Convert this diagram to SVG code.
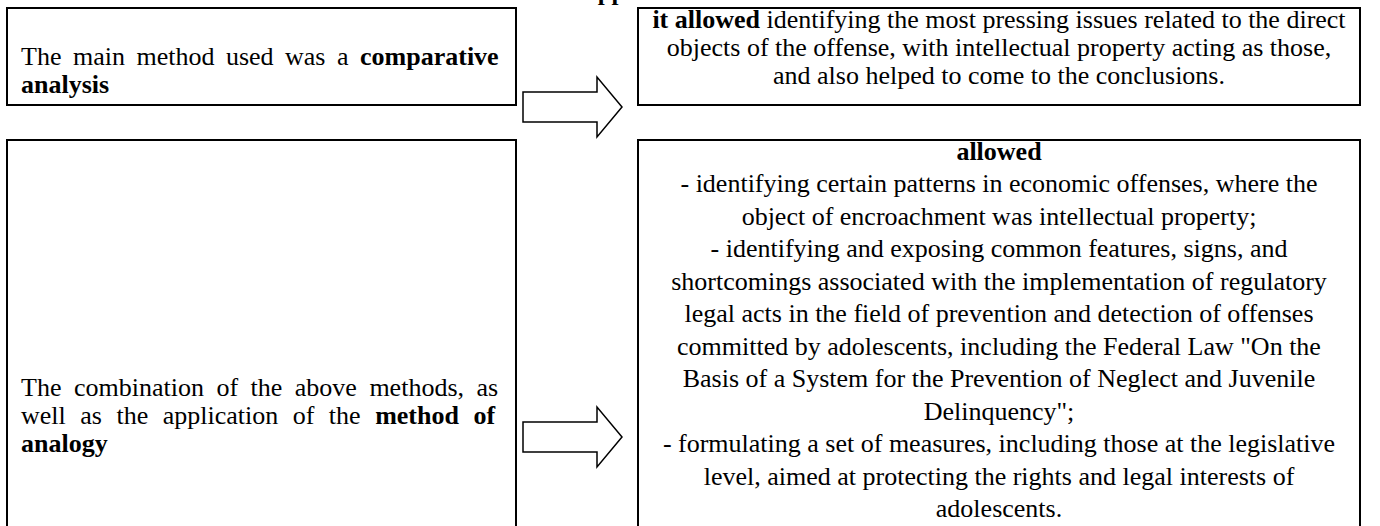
<svg xmlns="http://www.w3.org/2000/svg" width="1380" height="526" viewBox="0 0 1380 526">
<style>
.box{fill:#fff;stroke:#000;stroke-width:2}
.arr{fill:#fff;stroke:#000;stroke-width:1.5;stroke-linejoin:miter}
text{font-family:"Liberation Serif","Times New Roman",serif;font-size:26px;fill:#000}
.c{text-anchor:middle}
.b{font-weight:bold}
</style>
<rect width="1380" height="526" fill="#fff"/>
<text class="b" x="431" y="0" style="font-size:25px">Illustration of applied research methods</text>
<g id="nodeA">
<rect class="box" x="7" y="8" width="509" height="97"/>
<text x="21" y="65" word-spacing="5">The main method used was a <tspan class="b">comparative</tspan></text>
<text x="21" y="93" class="b">analysis</text>
</g>
<g id="nodeB">
<rect class="box" x="638" y="8" width="722" height="97"/>
<text class="c" x="999" y="28"><tspan class="b">it allowed</tspan> identifying the most pressing issues related to the direct</text>
<text class="c" x="999" y="56">objects of the offense, with intellectual property acting as those,</text>
<text class="c" x="999" y="84">and also helped to come to the conclusions.</text>
</g>
<g id="nodeC">
<rect class="box" x="7" y="140" width="509" height="400"/>
<text x="21" y="396" word-spacing="6">The combination of the above methods, as</text>
<text x="21" y="424" word-spacing="8">well as the application of the <tspan class="b">method of</tspan></text>
<text x="21" y="452" class="b">analogy</text>
</g>
<g id="nodeD">
<rect class="box" x="638" y="140" width="722" height="400"/>
<text class="c b" x="999" y="160">allowed</text>
<text class="c" x="999" y="192.4">- identifying certain patterns in economic offenses, where the</text>
<text class="c" x="999" y="224.9">object of encroachment was intellectual property;</text>
<text class="c" x="999" y="257.3">- identifying and exposing common features, signs, and</text>
<text class="c" x="999" y="289.8">shortcomings associated with the implementation of regulatory</text>
<text class="c" x="999" y="322.2">legal acts in the field of prevention and detection of offenses</text>
<text class="c" x="999" y="354.7">committed by adolescents, including the Federal Law "On the</text>
<text class="c" x="999" y="387.1">Basis of a System for the Prevention of Neglect and Juvenile</text>
<text class="c" x="999" y="419.6">Delinquency";</text>
<text class="c" x="999" y="452">- formulating a set of measures, including those at the legislative</text>
<text class="c" x="999" y="484.5">level, aimed at protecting the rights and legal interests of</text>
<text class="c" x="999" y="516.9">adolescents.</text>
</g>
<g id="connectors">
<path class="arr" d="M523,92 H597 V77 L622,107 L597,137 V122 H523 Z"/>
<path class="arr" d="M523,422 H597 V407 L622,437 L597,467 V452 H523 Z"/>
</g>
</svg>
